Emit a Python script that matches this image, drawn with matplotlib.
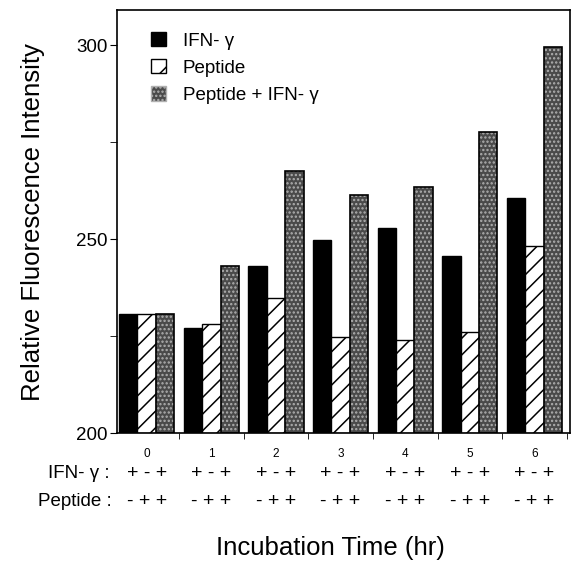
import numpy as np
import matplotlib
matplotlib.use("Agg")
import matplotlib.pyplot as plt
from matplotlib.patches import Patch
from matplotlib.transforms import blended_transform_factory

plt.rcParams['font.family'] = ['Liberation Sans', 'DejaVu Sans']
plt.rcParams['hatch.linewidth'] = 1.1

hours = ['0', '1', '2', '3', '4', '5', '6']
ifn = [230.6, 227.2, 243.0, 249.7, 252.8, 245.7, 260.6]
peptide = [230.6, 228.1, 234.9, 224.8, 223.9, 226.0, 248.1]
pep_ifn = [230.6, 243.0, 267.6, 261.3, 263.5, 277.5, 299.6]
ifn_signs = '+ - +'
pep_signs = '- + +'

fig = plt.figure(figsize=(5.72, 5.61), dpi=100)
ax = fig.add_axes([0.2045, 0.228, 0.792, 0.754])

x = np.arange(len(hours))
w = 0.285
gray = '#4a4a4a'

ax.bar(x - w, np.array(ifn) - 200, w, bottom=200, color='black', edgecolor='black', linewidth=1)
ax.bar(x, np.array(peptide) - 200, w, bottom=200, color='white', edgecolor='black',
       hatch='//', linewidth=1)
ax.bar(x + w, np.array(pep_ifn) - 200, w, bottom=200, color=gray, edgecolor='#b0b0b0',
       hatch='....', linewidth=0)
ax.bar(x + w, np.array(pep_ifn) - 200, w, bottom=200, fill=False, edgecolor='black', linewidth=1.2)

ax.set_xlim(-0.46, 6.55)
ax.set_ylim(200, 309)
ax.set_yticks([200, 250, 300])
ax.set_yticks([225, 275], minor=True)
ax.tick_params(axis='y', which='both', direction='out', length=5, labelsize=13.5, pad=2)

ax.set_xticks(x, hours)
ax.set_xticks(np.arange(0.5, 6.6, 1), minor=True)
ax.tick_params(axis='x', which='major', length=0, labelsize=8.5, pad=11)
ax.tick_params(axis='x', which='minor', direction='out', length=4)

for s in ax.spines.values():
    s.set_linewidth(1.2)

ax.set_ylabel('Relative Fluorescence Intensity', fontsize=18.5, labelpad=22)

tr = blended_transform_factory(ax.transData, fig.transFigure)
for i in x:
    ax.text(i, 0.156, ifn_signs, transform=tr, ha='center', va='center', fontsize=14)
    ax.text(i, 0.106, pep_signs, transform=tr, ha='center', va='center', fontsize=14)
fig.text(110 / 572, 0.156, 'IFN- γ :', ha='right', va='center', fontsize=13.5)
fig.text(112 / 572, 0.106, 'Peptide :', ha='right', va='center', fontsize=13.5)
fig.text(330 / 572, 1 - 548 / 561, 'Incubation Time (hr)', ha='center', va='center', fontsize=18.5)

handles = [Patch(facecolor='black', edgecolor='black'),
           Patch(facecolor='white', edgecolor='black', hatch='/'),
           Patch(facecolor=gray, edgecolor='#b0b0b0', hatch='....')]
ax.legend(handles, ['IFN- γ', 'Peptide', 'Peptide + IFN- γ'], loc='upper left',
          bbox_to_anchor=(0.038, 0.988), frameon=False, fontsize=13.5,
          handlelength=0.8, handleheight=0.8, handletextpad=0.9, labelspacing=0.5)

fig.savefig('out.png', dpi=100)
